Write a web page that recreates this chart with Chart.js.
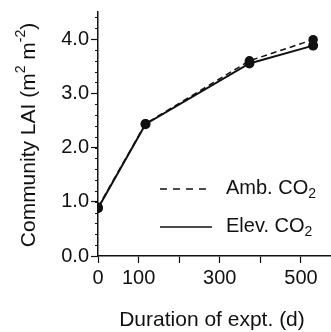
<!DOCTYPE html>
<html>
<head>
<meta charset="utf-8">
<script src="https://cdn.jsdelivr.net/npm/chart.js@4/dist/chart.umd.min.js"></script>
<style>
  body { margin: 0; background: #fff; }
  #wrap { width: 331px; height: 332px; }
</style>
</head>
<body>
<div id="wrap"><canvas id="lai" width="331" height="332"></canvas></div>
<script>
// days since start of experiment
let days = [0, 117, 373, 530];
let ambLAI = [0.90, 2.44, 3.60, 3.99];
let elevLAI = [0.88, 2.43, 3.55, 3.88];

let xTicks = [0, 100, 200, 300, 400, 500];
let xLabelled = [0, 100, 300, 500];
let yTicks = [0, 1, 2, 3, 4];

let font = "'Liberation Sans', Arial, sans-serif";
let ink = "#111";

let toPoints = (ys) => days.map((d, i) => ({ x: d, y: ys[i] }));

// draws text made of pieces, some raised or lowered
let drawRich = (ctx, parts, x, y, size, align) => {
    let widths = parts.map(p => {
        ctx.font = (p.s ? Math.round(size * 0.68) : size) + "px " + font;
        return ctx.measureText(p.t).width;
    });
    let total = widths.reduce((a, b) => a + b, 0);
    let cx = align == "center" ? x - total / 2 : x;
    parts.forEach((p, i) => {
        ctx.font = (p.s ? Math.round(size * 0.68) : size) + "px " + font;
        let dy = p.s == "sup" ? -size * 0.38 : p.s == "sub" ? size * 0.3 : 0;
        ctx.fillText(p.t, cx, y + dy);
        cx += widths[i];
    });
};

let extras = {
    id: "extras",
    afterDraw: (chart) => {
        let ctx = chart.ctx;
        let ys = chart.scales.y;
        let left = ys.right;
        ctx.save();
        // minor ticks on the y axis
        ctx.strokeStyle = ink;
        ctx.lineWidth = 1;
        for (let v = 0.2; v < 4.5; v += 0.2) {
            let py = Math.round(ys.getPixelForValue(v)) + 0.5;
            ctx.beginPath();
            ctx.moveTo(left - 3, py);
            ctx.lineTo(left, py);
            ctx.stroke();
        }
        ctx.fillStyle = ink;
        ctx.textBaseline = "middle";
        ctx.textAlign = "left";

        // y title
        ctx.save();
        ctx.translate(29, 135);
        ctx.rotate(-Math.PI / 2);
        drawRich(ctx, [{ t: "Community LAI (m" }, { t: "2", s: "sup" }, { t: " m" }, { t: "-2", s: "sup" }, { t: ")" }], 0, 0, 21, "center");
        ctx.restore();

        // x title
        drawRich(ctx, [{ t: "Duration of expt. (d)" }], 212, 320, 21, "center");

        // legend
        ctx.lineWidth = 1.5;
        ctx.setLineDash([7, 6]);
        ctx.beginPath();
        ctx.moveTo(160, 189);
        ctx.lineTo(212, 189);
        ctx.stroke();
        ctx.setLineDash([]);
        ctx.beginPath();
        ctx.moveTo(160, 227);
        ctx.lineTo(212, 227);
        ctx.stroke();
        drawRich(ctx, [{ t: "Amb. CO" }, { t: "2", s: "sub" }], 226, 188, 20, "left");
        drawRich(ctx, [{ t: "Elev. CO" }, { t: "2", s: "sub" }], 226, 226, 20, "left");
        ctx.restore();
    }
};

let ctx = document.getElementById("lai");
let laiChart = new Chart(ctx, {
    type: "line",
    data: {
        datasets: [{
            label: "Amb. CO2",
            data: toPoints(ambLAI),
            borderColor: ink,
            borderWidth: 1.5,
            borderDash: [6, 4],
            pointBackgroundColor: ink,
            pointBorderColor: ink,
            pointRadius: 4,
            tension: 0
        }, {
            label: "Elev. CO2",
            data: toPoints(elevLAI),
            borderColor: ink,
            borderWidth: 2,
            pointBackgroundColor: ink,
            pointBorderColor: ink,
            pointRadius: 4,
            tension: 0
        }]
    },
    options: {
        responsive: false,
        animation: false,
        layout: { autoPadding: false, padding: { top: 12, right: 0, left: 0, bottom: 0 } },
        plugins: { legend: { display: false }, tooltip: { enabled: false } },
        scales: {
            x: {
                type: "linear",
                min: 0,
                max: 574,
                afterFit: (s) => { s.height = 76; s.paddingRight = 0; s.paddingLeft = 0; },
                afterBuildTicks: (s) => { s.ticks = xTicks.map(v => ({ value: v })); },
                grid: { drawOnChartArea: false, tickLength: 7, tickColor: ink, tickWidth: 1.2 },
                border: { color: ink, width: 1.5 },
                ticks: {
                    color: ink,
                    font: { family: font, size: 20 },
                    padding: 3,
                    maxRotation: 0,
                    autoSkip: false,
                    callback: (v) => xLabelled.includes(v) ? String(v) : ""
                }
            },
            y: {
                min: 0,
                max: 4.5,
                afterFit: (s) => { s.width = 98; s.paddingTop = 0; s.paddingBottom = 0; },
                afterBuildTicks: (s) => { s.ticks = yTicks.map(v => ({ value: v })); },
                grid: { drawOnChartArea: false, tickLength: 7, tickColor: ink, tickWidth: 1.2 },
                border: { color: ink, width: 1.5 },
                ticks: {
                    color: ink,
                    font: { family: font, size: 20 },
                    padding: 2,
                    callback: (v) => v.toFixed(1)
                }
            }
        }
    },
    plugins: [extras]
});
</script>
</body>
</html>
